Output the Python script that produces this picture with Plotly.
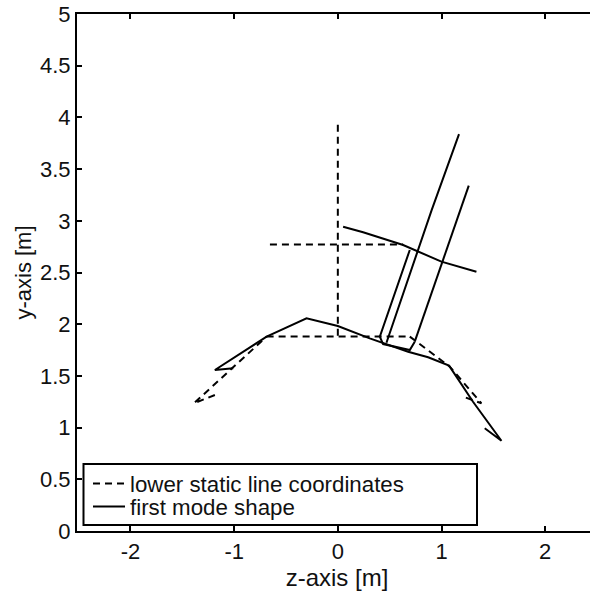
import plotly.graph_objects as go

FONT = "Liberation Sans"
x_range = [-2.516, 2.5]
y_range = [0, 5]
x_ticks = [-2, -1, 0, 1, 2]
x_labels = ["-2", "-1", "0", "1", "2"]
y_ticks = [0, 0.5, 1, 1.5, 2, 2.5, 3, 3.5, 4, 4.5, 5]
y_labels = ["0", "0.5", "1", "1.5", "2", "2.5", "3", "3.5", "4", "4.5", "5"]

static_z = [0, 0, None, -0.655, 0.63, None, -0.687, 0.694, None,
            -1.186, -1.388, -0.687, None, 0.694, 1.08, 1.385, 1.192]
static_y = [3.93, 1.88, None, 2.77, 2.77, None, 1.88, 1.88, None,
            1.315, 1.235, 1.88, None, 1.88, 1.589, 1.235, 1.306]

mode_z = [0.051, 0.244, 0.63, 0.999, 1.337, None,
          -1.009, -1.186, -0.687, -0.302, 0, 0.308, 0.678, 0.871, 1.073, 1.304, 1.578, 1.417, None,
          1.169, 0.905, 0.469, None,
          1.263, 0.955, 0.742, None,
          0.694, 0.405, 0.437, 0.694, 0.742]
mode_y = [2.943, 2.889, 2.766, 2.605, 2.508, None,
          1.573, 1.557, 1.88, 2.057, 1.983, 1.863, 1.734, 1.68, 1.599, 1.25, 0.873, 0.993, None,
          3.839, 3.104, 1.821, None,
          3.34, 2.459, 1.831, None,
          2.718, 1.879, 1.808, 1.75, 1.831]

fig = go.Figure()
fig.add_trace(go.Scatter(x=static_z, y=static_y, mode="lines", name="lower static line coordinates",
                         line=dict(color="black", width=2, dash="7px,5px"), legend="legend"))
fig.add_trace(go.Scatter(x=mode_z, y=mode_y, mode="lines", name="first mode shape",
                         line=dict(color="black", width=2), legend="legend2"))

plot_w, plot_h = 520, 517
fig.add_shape(type="rect", xref="paper", yref="paper", layer="above",
              x0=(83.5 - 77) / plot_w, x1=(477 - 77) / plot_w,
              y0=(531 - 525) / plot_h, y1=(531 - 464) / plot_h,
              line=dict(color="black", width=2), fillcolor="white")

legend_style = dict(xanchor="left", yanchor="middle", bgcolor="rgba(0,0,0,0)", borderwidth=0,
                    font=dict(size=22.3), itemwidth=32)

fig.update_layout(
    width=597, height=594, autosize=False,
    margin=dict(l=77, r=0, t=14, b=63),
    paper_bgcolor="white", plot_bgcolor="white",
    font=dict(family=FONT, size=22, color="#111"),
    showlegend=True,
    legend=dict(x=(88 - 77) / plot_w, y=(531 - 483.5) / plot_h, **legend_style),
    legend2=dict(x=(88 - 77) / plot_w, y=(531 - 506.5) / plot_h, **legend_style),
    xaxis=dict(range=x_range, tickvals=x_ticks, ticktext=x_labels, ticks="inside", ticklen=5, tickwidth=2,
               tickcolor="black", showline=True, linecolor="black", linewidth=2, mirror="ticks",
               showgrid=False, zeroline=False,
               title=dict(text="z-axis [m]", standoff=3, font=dict(size=24))),
    yaxis=dict(range=y_range, tickvals=y_ticks, ticktext=y_labels, ticks="inside", ticklen=5, tickwidth=2,
               tickcolor="black", showline=True, linecolor="black", linewidth=2,
               showgrid=False, zeroline=False,
               title=dict(text="y-axis [m]", standoff=2, font=dict(size=22))),
)
fig.write_html("out.html",
               post_script="document.body.style.margin='0';document.body.style.overflow='hidden';"
                           "document.documentElement.style.overflow='hidden';",
               config={"displayModeBar": False})
